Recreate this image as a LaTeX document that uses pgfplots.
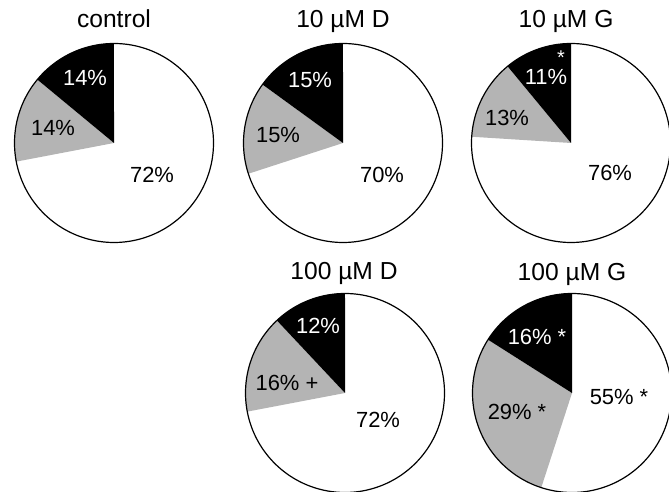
\documentclass[border=0pt]{standalone}
\usepackage{pgfplots}
\pgfplotsset{compat=1.18}
\usepackage{fontspec}
\setmainfont{Liberation Sans}
\definecolor{piegray}{RGB}{180,180,180}
\def\R{99.5}
\tikzset{lab/.style={font=\fontsize{22}{26}\selectfont},ttl/.style={anchor=base,font=\fontsize{24.7}{29}\selectfont}}
% wedge: center x, center y, start percent, end percent, colour (clockwise from 12 o'clock)
\newcommand{\wedgeplot}[5]{\addplot[fill=#5, draw=none, domain=0:1, samples=90] ({#1+\R*cos(90-3.6*((#3)+((#4)-(#3))*x))},{#2+\R*sin(90-3.6*((#3)+((#4)-(#3))*x))}) -- (axis cs:#1,#2) -- cycle;}
\newcommand{\pieoutline}[2]{\addplot[black, line width=1.2pt, domain=0:360, samples=241] ({#1+\R*cos(x)},{#2+\R*sin(x)});}
\begin{document}
\begin{tikzpicture}
\begin{axis}[width=669bp,height=492bp,scale only axis,hide axis,clip=true,
  xmin=0,xmax=669,ymin=0,ymax=492]
% control: 72 white, 14 gray, 14 black
\wedgeplot{114}{349}{72}{86}{piegray}
\wedgeplot{114}{349}{86}{100}{black}
\pieoutline{114}{349}
% 10 uM D: 70, 15, 15
\wedgeplot{343}{349}{70}{85}{piegray}
\wedgeplot{343}{349}{85}{100}{black}
\pieoutline{343}{349}
% 10 uM G: 76, 13, 11
\wedgeplot{571}{349}{76}{89}{piegray}
\wedgeplot{571}{349}{89}{100}{black}
\pieoutline{571}{349}
% 100 uM D: 72, 16, 12
\wedgeplot{345}{99}{72}{88}{piegray}
\wedgeplot{345}{99}{88}{100}{black}
\pieoutline{345}{99}
% 100 uM G: 55, 29, 16
\wedgeplot{572}{99}{55}{84}{piegray}
\wedgeplot{572}{99}{84}{100}{black}
\pieoutline{572}{99}
% titles
\node[ttl] at (axis cs:114,464) {control};
\node[ttl] at (axis cs:343,464) {10 µM D};
\node[ttl] at (axis cs:566,464) {10 µM G};
\node[ttl] at (axis cs:344,212) {100 µM D};
\node[ttl] at (axis cs:572,211) {100 µM G};
% labels
\node[lab,white] at (axis cs:85,414) {14\%};
\node[lab] at (axis cs:53,364) {14\%};
\node[lab] at (axis cs:152,317) {72\%};
\node[lab,white] at (axis cs:310,412) {15\%};
\node[lab] at (axis cs:278,357) {15\%};
\node[lab] at (axis cs:382,317) {70\%};
\node[lab,white] at (axis cs:546,415) {11\%};
\node[white,font=\fontsize{20}{22}\selectfont,inner sep=0pt] at (axis cs:561,434) {*};
\node[lab] at (axis cs:507,374) {13\%};
\node[lab] at (axis cs:610,319) {76\%};
\node[lab,white] at (axis cs:318,166) {12\%};
\node[lab] at (axis cs:287,109) {16\% +};
\node[lab] at (axis cs:378,72) {72\%};
\node[lab,white] at (axis cs:537,155) {16\% *};
\node[lab] at (axis cs:517,80) {29\% *};
\node[lab] at (axis cs:619,95) {55\% *};
\end{axis}
\pgfresetboundingbox
\path (current axis.south west) rectangle (current axis.north east);
\end{tikzpicture}
\end{document}
